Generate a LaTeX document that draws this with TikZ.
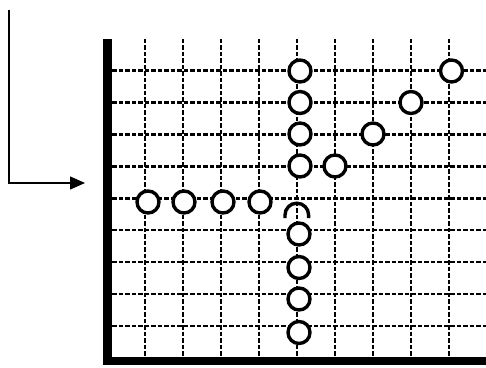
\documentclass[tikz,border=0pt]{standalone}
\usepackage{tikz}
\usetikzlibrary{positioning,arrows.meta}

\begin{document}
\begin{tikzpicture}[
    x=1pt, y=1pt,
    grid/.style={dash pattern=on 4.5pt off 2pt, line width=2.4pt},
    bead/.style={draw, circle, fill=white, line width=3.4pt, minimum size=22pt, inner sep=0pt},
    line/.style={-{Triangle[length=15pt, width=13pt]}, line width=1.4pt}
]
\useasboundingbox (0,0) rectangle (486,367);

% dashed grid
\foreach \i in {0,...,8}
    \draw[grid] (145+38*\i,328) -- (145+38*\i,10);
\foreach \j in {0,...,8}
    \draw[grid] (112,296.3-31.9*\j) -- (486,296.3-31.9*\j);

% walls
\fill (103,2) rectangle (112,328);
\fill (103,2) rectangle (486,10);

% beads along the column
\node[bead] (c1) at (300,296) {};
\node[bead] (c2) at (300,264.5) {};
\node[bead] (c3) at (300,233) {};
\node[bead] (c4) at (300,201) {};
\node[bead] (c6) at (299,133) {};
\node[bead] (c7) at (299,99.5) {};
\node[bead] (c8) at (299,68) {};
\node[bead] (c9) at (299,34.5) {};

% beads on the diagonal
\node[bead] (d4) at (335,201) {};
\node[bead] (d3) at (373,233) {};
\node[bead] (d2) at (411,264.5) {};
\node[bead] (d1) at (451.5,296) {};

% beads along the row
\node[bead] (r1) at (148,165) {};
\node[bead] (r2) at (184,165) {};
\node[bead] (r3) at (223,165) {};
\node[bead] (r4) at (260,165) {};

% open cap
\draw[line width=3.4pt] (285,149) -- (285,152) arc (180:0:11.8) -- (308.6,149);

% arrow
\coordinate (start) at (9,357);
\coordinate (tip) at (85,184);
\draw[line] (start) |- (tip);

\end{tikzpicture}
\end{document}
